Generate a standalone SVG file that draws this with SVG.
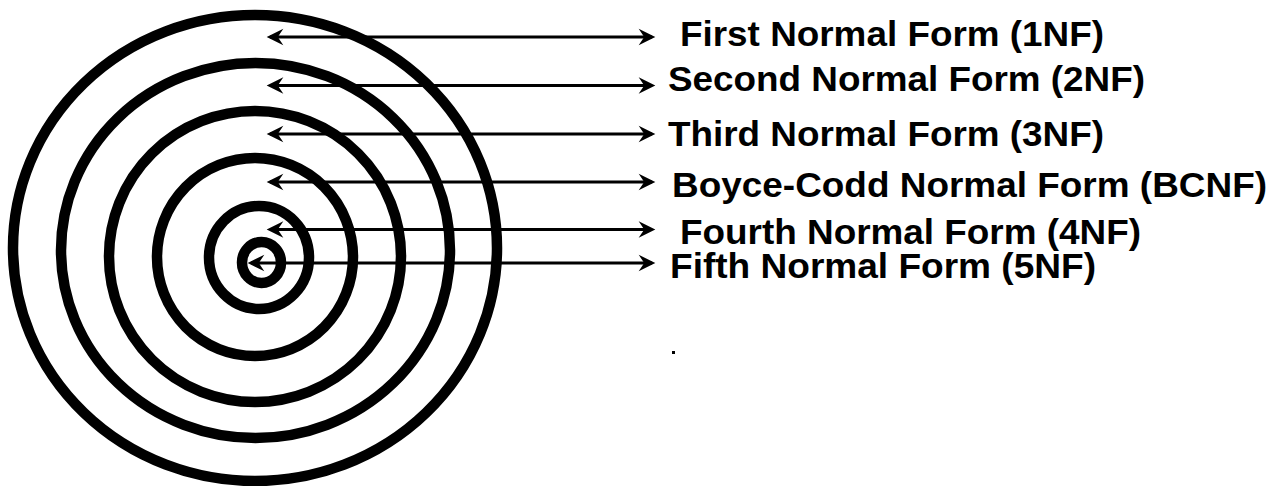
<svg xmlns="http://www.w3.org/2000/svg" width="1284" height="486" viewBox="0 0 1284 486">
<style>
.ring{fill:none;stroke:#000;stroke-width:10.5}
.arr{stroke:#000;stroke-width:3;fill:none;marker-start:url(#ah);marker-end:url(#ah)}
.lbl{font-family:"Liberation Sans",Arial,sans-serif;font-weight:bold;font-size:35.5px;fill:#000}
</style>
<defs>
<marker id="ah" markerUnits="userSpaceOnUse" orient="auto-start-reverse" refX="0" refY="0" markerWidth="20" markerHeight="20" viewBox="-14 -9 18 18" overflow="visible">
<path d="M3,0 L-12,-7.5 L-7,0 L-12,7.5 Z" fill="#000"/>
</marker>
</defs>
<rect width="1284" height="486" fill="#fff"/>
<g id="rings">
<ellipse id="ring1" class="ring" cx="255" cy="248" rx="242" ry="233"/>
<ellipse id="ring2" class="ring" cx="255.5" cy="250.5" rx="194.5" ry="187.5"/>
<ellipse id="ring3" class="ring" cx="255" cy="256.5" rx="146" ry="145.5"/>
<ellipse id="ring4" class="ring" cx="255" cy="257" rx="98" ry="99"/>
<ellipse id="ring5" class="ring" cx="259" cy="257.5" rx="50" ry="51.5"/>
<ellipse id="ring6" class="ring" cx="261.5" cy="262.5" rx="19.5" ry="20.5"/>
</g>
<g id="connectors">
<line class="arr" x1="270" y1="37" x2="652" y2="37"/>
<line class="arr" x1="270" y1="85.5" x2="652" y2="85.5"/>
<line class="arr" x1="270" y1="134" x2="652" y2="134"/>
<line class="arr" x1="270" y1="182" x2="652" y2="182"/>
<line class="arr" x1="270" y1="229.5" x2="652" y2="229.5"/>
<line class="arr" x1="251" y1="263" x2="652" y2="263"/>
</g>
<g id="label1"><text class="lbl" x="680" y="46" textLength="424" lengthAdjust="spacingAndGlyphs">First Normal Form (1NF)</text></g>
<g id="label2"><text class="lbl" x="668" y="91" textLength="477" lengthAdjust="spacingAndGlyphs">Second Normal Form (2NF)</text></g>
<g id="label3"><text class="lbl" x="668" y="146" textLength="436" lengthAdjust="spacingAndGlyphs">Third Normal Form (3NF)</text></g>
<g id="label4"><text class="lbl" x="672" y="197" textLength="595" lengthAdjust="spacingAndGlyphs">Boyce-Codd Normal Form (BCNF)</text></g>
<g id="label5"><text class="lbl" x="680" y="244" textLength="461" lengthAdjust="spacingAndGlyphs">Fourth Normal Form (4NF)</text></g>
<g id="label6"><text class="lbl" x="670" y="278" textLength="426" lengthAdjust="spacingAndGlyphs">Fifth Normal Form (5NF)</text></g>
<rect x="672" y="351" width="3" height="3" fill="#000"/>
</svg>
